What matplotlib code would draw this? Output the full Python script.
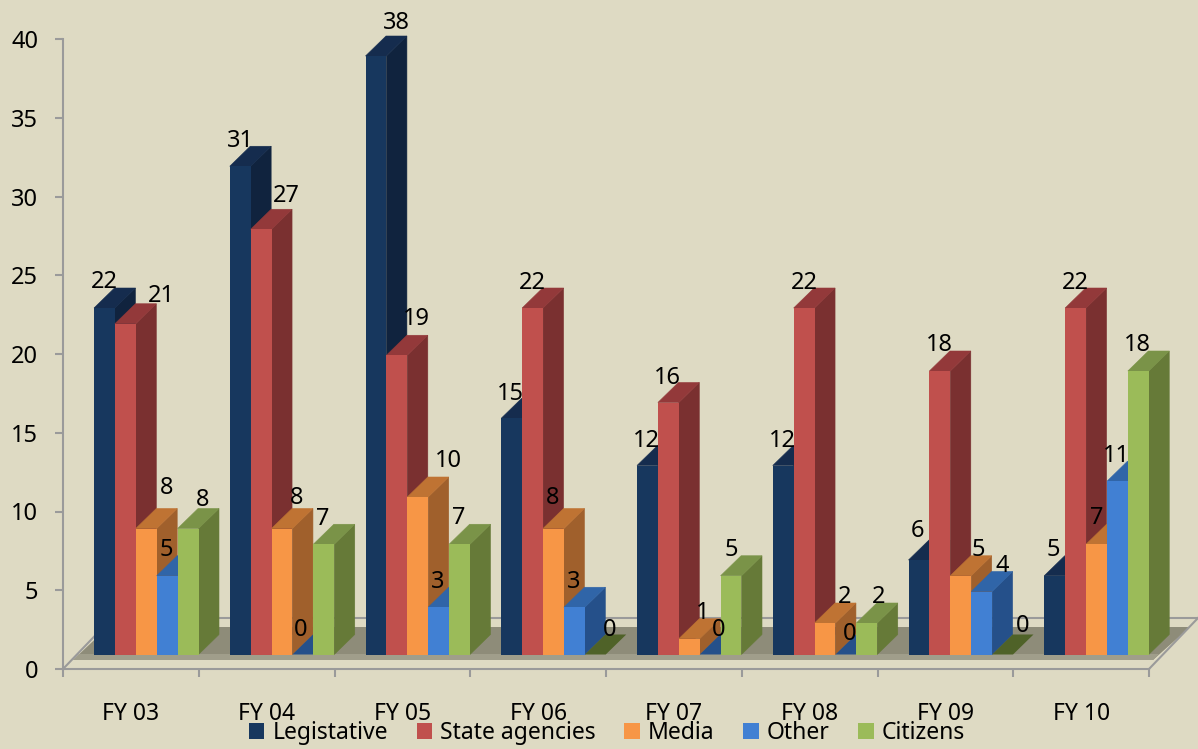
import matplotlib
matplotlib.use("Agg")
import matplotlib.pyplot as plt
from matplotlib.patches import Polygon, Patch

years = ["FY 03", "FY 04", "FY 05", "FY 06", "FY 07", "FY 08", "FY 09", "FY 10"]
legislative = [22, 31, 38, 15, 12, 12, 6, 5]
state_agencies = [21, 27, 19, 22, 16, 22, 18, 22]
media = [8, 8, 10, 8, 1, 2, 5, 7]
other = [5, 0, 3, 3, 0, 0, 4, 11]
citizens = [8, 7, 7, 0, 5, 2, 0, 18]

names = ["Legistative", "State agencies", "Media", "Other", "Citizens"]
series = [legislative, state_agencies, media, other, citizens]
front_cols = ["#17375e", "#c0504d", "#f79646", "#4180d3", "#9bbb59"]
top_cols = ["#152c4e", "#93393a", "#bf7333", "#3065a8", "#7a9348"]
side_cols = ["#10233e", "#7a3030", "#a0602c", "#25508a", "#667a38"]
zero_cols = ["#10233e", "#7a3030", "#a0602c", "#25508a", "#4f6228"]

# label offsets from the top of each bar front, in pixels (one row per year)
label_off = [
    [(0, 26), (36, 28), (20, 41), (-1, 26), (15, 29)],
    [(0, 25), (25, 33), (15, 31), (-2, 25), (-1, 25)],
    [(20, 33), (20, 36), (31, 36), (-1, 25), (-1, 26)],
    [(-1, 24), (0, 25), (-1, 31), (-1, 25), (14, 25)],
    [(-1, 25), (-1, 25), (13, 26), (8, 25), (0, 26)],
    [(-1, 25), (0, 25), (20, 26), (4, 20), (12, 26)],
    [(-1, 29), (0, 26), (18, 26), (21, 25), (20, 29)],
    [(-1, 26), (0, 25), (0, 26), (-1, 25), (-1, 26)],
]

plt.rcParams["font.family"] = ["Noto Sans", "DejaVu Sans"]
BG = "#dedac3"
W, H = 1198, 749
X0, X1, Y0, Y40 = 63, 1149, 669, 39

fig = plt.figure(figsize=(W / 100, H / 100), dpi=100, facecolor=BG)
ax = fig.add_axes([X0 / W, 1 - Y0 / H, (X1 - X0) / W, (Y0 - Y40) / H], facecolor="none")
ax.set_xlim(0, len(years))
ax.set_ylim(0, 40)

ux = (X1 - X0) / len(years)  # px per group
uy = (Y0 - Y40) / 40  # px per value


def px(x, y):
    return (x - X0) / ux, (Y0 - y) / uy


# floor
ax.add_patch(Polygon([px(73, 660), px(1153, 660), px(1190, 627), px(108, 627)],
                     closed=True, fc="#8e8c79", ec="none", clip_on=False, zorder=1))
ax.add_patch(Polygon([px(73, 660), px(1153, 660), px(1159, 654), px(79, 654)],
                     closed=True, fc="#a09e8b", ec="none", clip_on=False, zorder=1))
ax.plot(*zip(px(112, 618), px(1198, 618)), color="#9a9a9a", lw=1.5, clip_on=False, zorder=1)
ax.plot(*zip(px(1149, 669), px(1198, 618)), color="#9a9a9a", lw=1.5, clip_on=False, zorder=1)
ax.plot(*zip(px(63, 669), px(112, 618)), color="#9a9a9a", lw=1.5, clip_on=False, zorder=1)

first = 31 / ux
bw = 20.9 / ux
base = (Y0 - 654.5) / uy
ddx = 20.5 / ux
ddy = 20 / uy

z = 2
for i in range(len(years)):
    for j, s in enumerate(series):
        v = s[i]
        x = i + first + j * bw
        top = base + v
        if v == 0:
            ax.add_patch(Polygon([(x, base), (x + bw, base), (x + bw + ddx, base + ddy), (x + ddx, base + ddy)],
                                 closed=True, fc=zero_cols[j], ec="none", clip_on=False, zorder=z))
        else:
            ax.add_patch(Polygon([(x + bw, base), (x + bw + ddx, base + ddy), (x + bw + ddx, top + ddy), (x + bw, top)],
                                 closed=True, fc=side_cols[j], ec=side_cols[j], lw=0.4, clip_on=False, zorder=z))
            ax.add_patch(Polygon([(x, top), (x + bw, top), (x + bw + ddx, top + ddy), (x + ddx, top + ddy)],
                                 closed=True, fc=top_cols[j], ec=top_cols[j], lw=0.4, clip_on=False, zorder=z))
            ax.bar(x, v, bw, bottom=base, align="edge", color=front_cols[j], clip_on=False, zorder=z)
        z += 1

for i in range(len(years)):
    for j, s in enumerate(series):
        x = i + first + (j + 0.5) * bw
        dx, dy = label_off[i][j]
        ax.annotate(str(s[i]), (x, base + s[i]), xytext=(dx * 0.72, dy * 0.72), textcoords="offset points",
                    ha="center", va="center", fontsize=17, color="black", zorder=200, annotation_clip=False)

for side in ["top", "right"]:
    ax.spines[side].set_visible(False)
for side in ["left", "bottom"]:
    ax.spines[side].set_color("#9a9a9a")
    ax.spines[side].set_linewidth(1.5)

ax.set_yticks(range(0, 41, 5))
ax.set_xticks(range(len(years) + 1))
ax.set_xticklabels([])
ax.set_xticks([i + 0.5 for i in range(len(years))], minor=True)
ax.set_xticklabels(years, minor=True)
ax.tick_params(axis="x", which="major", length=5.8, width=1.5, color="#9a9a9a")
ax.tick_params(axis="x", which="minor", length=0, pad=23.5, labelsize=16.5)
ax.tick_params(axis="y", length=5.8, width=1.5, color="#9a9a9a", pad=12, labelsize=17)

handles = [Patch(fc=c, ec="none") for c in front_cols]
ax.legend(handles, names, ncol=5, loc="center", bbox_to_anchor=(607 / W, 1 - 733 / H),
          bbox_transform=fig.transFigure, frameon=False,
          prop={"family": "Noto Sans", "size": 16.5}, handlelength=0.68, handleheight=0.68,
          handletextpad=0.35, columnspacing=1.25, borderpad=0)

fig.savefig("out.png", dpi=100, facecolor=BG)
